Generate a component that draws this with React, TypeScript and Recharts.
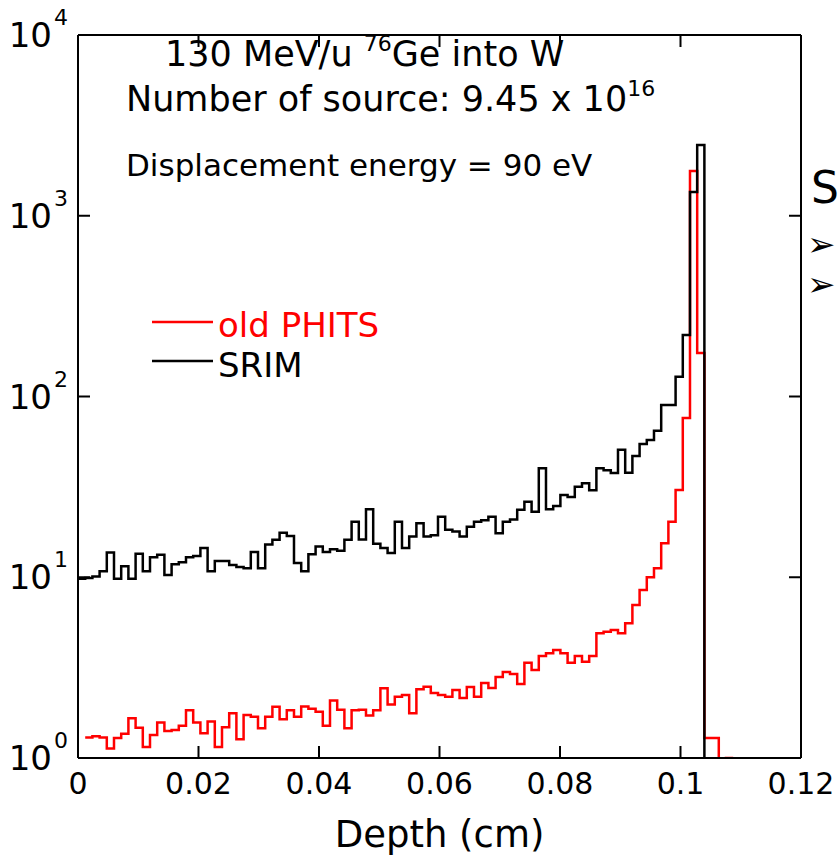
import React from "react";
import { LineChart, Line, XAxis, YAxis } from "recharts";

// histogram bin width in cm (both codes use the same mesh)
const BIN_WIDTH = 0.001195;

// SRIM damage per bin, last entry closes the final bin below the axis
const srim = [
  9.8, 9.9, 10.1, 10.8, 13.7, 9.8, 11.5, 9.8, 13.5, 10.8,
  12.9, 13.3, 10.3, 11.8, 12.1, 12.9, 13.1, 14.5, 10.8, 12.3,
  12.3, 11.7, 11.4, 11.2, 13.8, 11.2, 15.2, 16.1, 17.6, 16.9,
  12.0, 10.8, 13.4, 14.8, 13.8, 14.3, 14.0, 16.1, 20.3, 16.2,
  23.8, 15.3, 14.5, 13.6, 20.3, 14.5, 16.8, 19.9, 16.8, 17.1,
  21.6, 18.3, 17.9, 16.8, 19.0, 20.3, 20.7, 21.6, 17.5, 20.3,
  20.9, 23.6, 26.2, 23.0, 40.1, 23.8, 24.8, 28.5, 27.8, 31.7,
  33.1, 30.3, 40.1, 39.1, 37.7, 50.8, 37.9, 46.9, 54.6, 57.4,
  64.7, 89.8, 89.8, 128.8, 219, 1353, 2462, 0.5,
];

// old PHITS damage per bin (first bin empty)
const oldPhits = [
  null, 1.3, 1.32, 1.3, 1.13, 1.29, 1.36, 1.66, 1.47, 1.15,
  1.34, 1.57, 1.41, 1.43, 1.51, 1.84, 1.57, 1.37, 1.59, 1.15,
  1.48, 1.77, 1.27, 1.73, 1.69, 1.46, 1.69, 1.92, 1.64, 1.84,
  1.69, 1.93, 1.87, 1.8, 1.51, 2.08, 1.85, 1.46, 1.84, 1.85,
  1.72, 1.84, 2.43, 1.98, 2.18, 2.23, 1.77, 2.4, 2.48, 2.29,
  2.23, 2.18, 2.38, 2.15, 2.47, 2.18, 2.6, 2.44, 2.81, 2.99,
  2.92, 2.57, 3.36, 3.07, 3.67, 3.8, 3.96, 3.8, 3.37, 3.67,
  3.41, 3.67, 4.9, 5.0, 5.11, 4.9, 5.56, 7.02, 8.5, 9.99,
  11.2, 15.4, 20.3, 30.4, 76.0, 1769, 174, 1.29, 1.29, 0.5,
  1.0, 1.0,
];

const xTicks = [0, 0.02, 0.04, 0.06, 0.08, 0.1, 0.12];
const xTickLabels = ["0", "0.02", "0.04", "0.06", "0.08", "0.1", "0.12"];
const yTicks = [1, 10, 100, 1000, 10000];
const yTickExponents = ["0", "1", "2", "3", "4"];

const FONT = "DejaVu Sans";
const TICK = 12;

const rows = Array.from({ length: Math.max(srim.length, oldPhits.length) }, (_, i) => ({
  depth: i * BIN_WIDTH,
  srim: srim[i] ?? null,
  oldPhits: oldPhits[i] ?? null,
}));

// ticks point into the plot on every side
function BottomTick(props: any) {
  const { x, y, index } = props;
  return (
    <g>
      <line x1={x} x2={x} y1={y} y2={y - TICK} stroke="#000" strokeWidth={2} />
      <text x={x} y={y + 36} textAnchor="middle" fontFamily={FONT} fontSize={30} fill="#000">
        {xTickLabels[index]}
      </text>
    </g>
  );
}

function TopTick(props: any) {
  const { x, y } = props;
  return <line x1={x} x2={x} y1={y} y2={y + TICK} stroke="#000" strokeWidth={2} />;
}

function LeftTick(props: any) {
  const { x, y, index } = props;
  return (
    <g fontFamily={FONT} fill="#000">
      <line x1={x} x2={x + TICK} y1={y} y2={y} stroke="#000" strokeWidth={2} />
      <text x={52} y={y + 12} textAnchor="end" fontSize={34}>10</text>
      <text x={54} y={y - 10} fontSize={22}>{yTickExponents[index]}</text>
    </g>
  );
}

function RightTick(props: any) {
  const { x, y } = props;
  return <line x1={x} x2={x - TICK} y1={y} y2={y} stroke="#000" strokeWidth={2} />;
}

const frame = { stroke: "#000", strokeWidth: 2 };

export default function App() {
  return (
    <div style={{ position: "absolute", left: 0, top: 0, width: 838, height: 862, background: "#fff" }}>
      <LineChart width={838} height={862} data={rows} margin={{ top: 34, right: 36, bottom: 0, left: 0 }}>
        <XAxis
          xAxisId="b"
          type="number"
          dataKey="depth"
          domain={[0, 0.12]}
          ticks={xTicks}
          interval={0}
          height={104}
          tickSize={0}
          tickMargin={0}
          axisLine={frame}
          tickLine={false}
          tick={<BottomTick />}
        />
        <XAxis
          xAxisId="t"
          orientation="top"
          type="number"
          dataKey="depth"
          domain={[0, 0.12]}
          ticks={xTicks}
          interval={0}
          height={1}
          tickSize={0}
          tickMargin={0}
          axisLine={frame}
          tickLine={false}
          tick={<TopTick />}
        />
        <YAxis
          yAxisId="l"
          type="number"
          scale="log"
          domain={[1, 10000]}
          allowDataOverflow
          ticks={yTicks}
          interval={0}
          width={78}
          tickSize={0}
          tickMargin={0}
          axisLine={frame}
          tickLine={false}
          tick={<LeftTick />}
        />
        <YAxis
          yAxisId="r"
          orientation="right"
          type="number"
          scale="log"
          domain={[1, 10000]}
          allowDataOverflow
          ticks={yTicks}
          interval={0}
          width={1}
          tickSize={0}
          tickMargin={0}
          axisLine={frame}
          tickLine={false}
          tick={<RightTick />}
        />
        <Line
          xAxisId="b"
          yAxisId="l"
          type="stepAfter"
          dataKey="oldPhits"
          stroke="#ff0000"
          strokeWidth={2.5}
          dot={false}
          connectNulls={false}
          isAnimationActive={false}
        />
        <Line
          xAxisId="b"
          yAxisId="l"
          type="stepAfter"
          dataKey="srim"
          stroke="#000"
          strokeWidth={2.5}
          dot={false}
          connectNulls={false}
          isAnimationActive={false}
        />
      </LineChart>
      <svg
        width={838}
        height={862}
        style={{ position: "absolute", left: 0, top: 0, pointerEvents: "none" }}
        fontFamily={FONT}
        fill="#000"
      >
        <text x={165} y={66} fontSize={35}>
          130 MeV/u{" "}
          <tspan fontSize={22} dy={-15}>76</tspan>
          <tspan dy={15}>Ge into W</tspan>
        </text>
        <text x={126} y={111} fontSize={35}>
          Number of source: 9.45 x 10
          <tspan fontSize={22} dy={-15}>16</tspan>
        </text>
        <text x={126} y={176} fontSize={31}>Displacement energy = 90 eV</text>

        <line x1={152} x2={213} y1={322} y2={322} stroke="#ff0000" strokeWidth={2.5} />
        <text x={218} y={337} fontSize={34} fill="#ff0000">old PHITS</text>
        <line x1={152} x2={213} y1={361} y2={361} stroke="#000" strokeWidth={2.5} />
        <text x={218} y={377} fontSize={34}>SRIM</text>

        <text x={439.5} y={847} textAnchor="middle" fontSize={37}>Depth (cm)</text>

        <text x={811} y={203} fontSize={44}>S</text>
        <text x={807} y={256} fontSize={34}>➢</text>
        <text x={807} y={296} fontSize={34}>➢</text>
      </svg>
    </div>
  );
}
